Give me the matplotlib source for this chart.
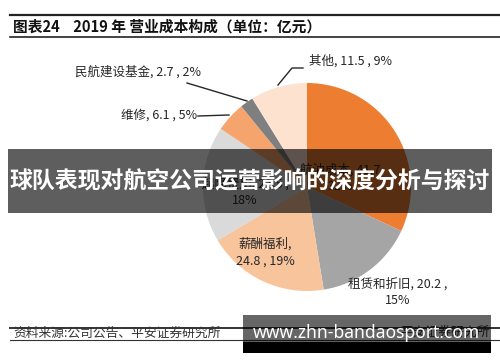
import matplotlib
matplotlib.use("Agg")
import matplotlib.pyplot as plt
from matplotlib.patches import Rectangle

plt.rcParams['font.family'] = ['Noto Sans CJK SC', 'DejaVu Sans']

categories = ['航油成本', '租赁和折旧', '薪酬福利', '起降费用', '维修', '民航建设基金', '其他']
values = [41.7, 20.2, 24.8, 23.5, 6.1, 2.7, 11.5]
percents = [32, 15, 19, 18, 5, 2, 9]
colors = ['#ed7d31', '#a5a5a5', '#f8c49c', '#dadada', '#f4a46c', '#7f7f7f', '#fde2cf']

title = '图表24    2019 年 营业成本构成（单位：亿元）'
source = '资料来源:公司公告、平安证券研究所'
banner = '球队表现对航空公司运营影响的深度分析与探讨'
site = 'www.zhn-bandaosport.com'

W, H = 500, 362
fig = plt.figure(figsize=(5, 3.62), dpi=100)
ax = fig.add_axes([0, 0, 1, 1])

def Y(y):
    return H - y

cx, cy, r = 307, Y(187), 104
ax.pie(values, startangle=90, counterclock=False, colors=colors,
       center=(cx, cy), radius=r, frame=True,
       wedgeprops=dict(linewidth=0))
ax.set_xlim(0, W)
ax.set_ylim(0, H)
ax.set_aspect('equal')
ax.axis('off')

fs = 9
tc = '#262626'
def lab(i):
    return f'{categories[i]}, {values[i]} , {percents[i]}%'

# inside labels (partly hidden under the banner, as in the reference)
ax.text(340, Y(170), f'{categories[0]}, {values[0]}', ha='center', va='center', fontsize=fs, color=tc)
ax.text(340, Y(187), f'{percents[0]}%', ha='center', va='center', fontsize=fs, color=tc)
ax.text(245, Y(184), f'{categories[3]}, {values[3]} ,', ha='center', va='center', fontsize=fs, color=tc)
ax.text(245, Y(201), f'{percents[3]}%', ha='center', va='center', fontsize=fs, color=tc)
ax.text(265, Y(244), f'{categories[2]},', ha='center', va='center', fontsize=fs, color=tc)
ax.text(265, Y(261), f'{values[2]} , {percents[2]}%', ha='center', va='center', fontsize=fs, color=tc)
# outside labels
ax.text(398, Y(284), f'{categories[1]}, {values[1]} ,', ha='center', va='center', fontsize=fs, color=tc)
ax.text(398, Y(300), f'{percents[1]}%', ha='center', va='center', fontsize=fs, color=tc)
ax.text(309, Y(61), lab(6), ha='left', va='center', fontsize=fs, color=tc)
ax.plot([278, 292, 303], [Y(85), Y(68), Y(68)], color='#262626', lw=1)
ax.text(201, Y(72), lab(5), ha='right', va='center', fontsize=fs, color=tc)
ax.plot([187, 247], [Y(83), Y(101)], color='#262626', lw=1)
ax.text(197, Y(115), lab(4), ha='right', va='center', fontsize=fs, color=tc)
ax.plot([198, 229], [Y(116), Y(115)], color='#262626', lw=1)

# title and rules
ax.plot([10, W], [Y(15), Y(15)], color='#222222', lw=1.6)
ax.plot([10, W], [Y(37), Y(37)], color='#222222', lw=1.2)
ax.text(13, Y(26.5), title, ha='left', va='center', fontsize=10.6, fontweight='bold', color='#111111')

# source
ax.plot([10, W], [Y(328), Y(328)], color='#333333', lw=1.4)
ax.plot([10, W], [Y(339.5), Y(339.5)], color='#333333', lw=0.8)
ax.text(13, Y(333.5), source, ha='left', va='center', fontsize=9.2, color='#333333')
ax.text(490, Y(332), '平安证券研究所', ha='right', va='center', fontsize=9.2, color='#333333')

# middle banner
ax.add_patch(Rectangle((8, Y(213)), 484, 64, facecolor='black', alpha=0.63, lw=0, zorder=5))
ax.text(250, Y(182), banner, ha='center', va='center', fontsize=16.5, fontweight='bold',
        color='white', zorder=6)

# bottom banner
ax.add_patch(Rectangle((243, Y(353)), 248, 38, facecolor='black', alpha=0.6, lw=0, zorder=5))
ax.add_patch(Rectangle((243, Y(353)), 248, 11, facecolor='black', lw=0, zorder=5))
ax.text(366.5, Y(333), site, ha='center', va='center', fontsize=12.6, fontweight='bold',
        color='white', family=['Noto Sans', 'DejaVu Sans'], zorder=6)

fig.savefig('out.png', dpi=100)
